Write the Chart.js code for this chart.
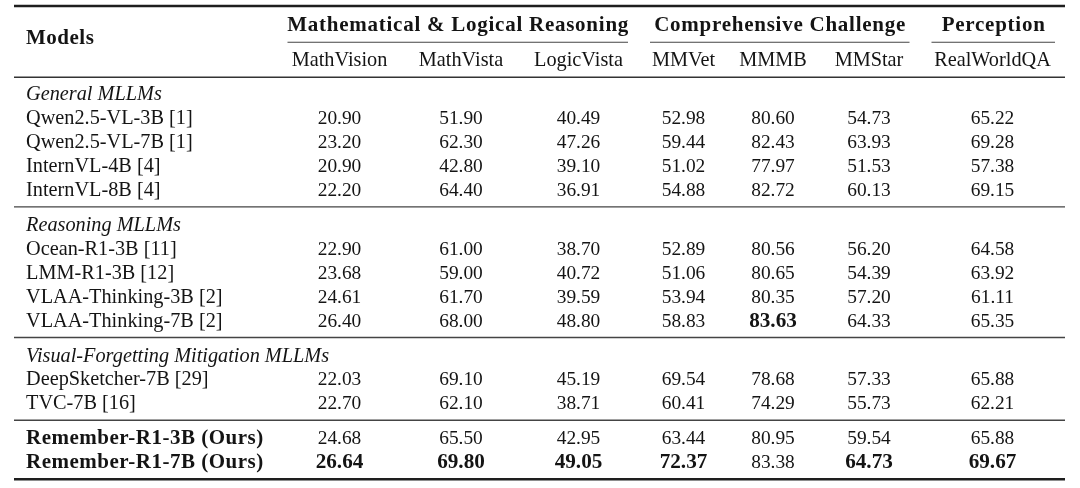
<!DOCTYPE html>
<html>
<head>
<meta charset="utf-8">
<script src="https://cdn.jsdelivr.net/npm/chart.js@4.4.1/dist/chart.umd.min.js"></script>
<style>
	html, body { margin: 0; padding: 0; background: #ffffff; }
	canvas { display: block; }
</style>
</head>
<body>
<canvas id="myChart" width="1080" height="488"></canvas>
<script>
	// table contents
	const groupNames = ['Mathematical & Logical Reasoning', 'Comprehensive Challenge', 'Perception'];
	const groupSpans = [3, 3, 1];
	const benchmarks = ['MathVision', 'MathVista', 'LogicVista', 'MMVet', 'MMMB', 'MMStar', 'RealWorldQA'];
	const sections = ['General MLLMs', 'Reasoning MLLMs', 'Visual-Forgetting Mitigation MLLMs', ''];
	const models = [
		'Qwen2.5-VL-3B [1]', 'Qwen2.5-VL-7B [1]', 'InternVL-4B [4]', 'InternVL-8B [4]',
		'Ocean-R1-3B [11]', 'LMM-R1-3B [12]', 'VLAA-Thinking-3B [2]', 'VLAA-Thinking-7B [2]',
		'DeepSketcher-7B [29]', 'TVC-7B [16]',
		'Remember-R1-3B (Ours)', 'Remember-R1-7B (Ours)'
	];
	const modelSection = [0, 0, 0, 0, 1, 1, 1, 1, 2, 2, 3, 3];
	const boldModels = [10, 11];

	const mathVision  = ['20.90', '23.20', '20.90', '22.20', '22.90', '23.68', '24.61', '26.40', '22.03', '22.70', '24.68', '26.64'];
	const mathVista   = ['51.90', '62.30', '42.80', '64.40', '61.00', '59.00', '61.70', '68.00', '69.10', '62.10', '65.50', '69.80'];
	const logicVista  = ['40.49', '47.26', '39.10', '36.91', '38.70', '40.72', '39.59', '48.80', '45.19', '38.71', '42.95', '49.05'];
	const mmVet       = ['52.98', '59.44', '51.02', '54.88', '52.89', '51.06', '53.94', '58.83', '69.54', '60.41', '63.44', '72.37'];
	const mmmb        = ['80.60', '82.43', '77.97', '82.72', '80.56', '80.65', '80.35', '83.63', '78.68', '74.29', '80.95', '83.38'];
	const mmStar      = ['54.73', '63.93', '51.53', '60.13', '56.20', '54.39', '57.20', '64.33', '57.33', '55.73', '59.54', '64.73'];
	const realWorldQA = ['65.22', '69.28', '57.38', '69.15', '64.58', '63.92', '61.11', '65.35', '65.88', '62.21', '65.88', '69.67'];
	// [row, column] of bold (best) cells
	const boldCells = [[7, 4], [11, 0], [11, 1], [11, 2], [11, 3], [11, 5], [11, 6]];

	const columns = [mathVision, mathVista, logicVista, mmVet, mmmb, mmStar, realWorldQA];

	// layout
	const colX = [339.5, 461, 578.5, 683.5, 773, 869, 992.5];
	const labelX = 26;
	const tableLeft = 14, tableRight = 1065;
	const groupRuleX = [[287.5, 628], [650, 909.5], [931.5, 1055]];
	const pitch = 23.9;

	const FONT = '"Liberation Serif", "Times New Roman", serif';
	const styles = {
		reg:     { font: '20.3px ' + FONT, spacing: 0 },
		num:     { font: '19.4px ' + FONT, spacing: 0 },
		ital:    { font: 'italic 20.3px ' + FONT, spacing: 0 },
		bold:    { font: 'bold 21px ' + FONT, spacing: 0.5 },
		group:   { font: 'bold 21px ' + FONT, spacing: 0.75 },
		boldNum: { font: 'bold 21.2px ' + FONT, spacing: 0 }
	};

	const headerCells = [];
	const labelCells = [];
	const valueCells = [];
	const rules = [];

	rules.push({ y: 6, x0: tableLeft, x1: tableRight, w: 2.5, c: '#1e1e1e' });
	groupNames.forEach(function (g, i) {
		headerCells.push({ x: (groupRuleX[i][0] + groupRuleX[i][1]) / 2, y: 31, text: g, style: 'group', align: 'center' });
		rules.push({ y: 42.3, x0: groupRuleX[i][0], x1: groupRuleX[i][1], w: 1.1, c: '#444' });
	});
	headerCells.push({ x: labelX, y: 44.3, text: 'Models', style: 'bold', align: 'left' });
	benchmarks.forEach(function (b, i) {
		headerCells.push({ x: colX[i], y: 66, text: b, style: 'reg', align: 'center' });
	});
	rules.push({ y: 77.3, x0: tableLeft, x1: tableRight, w: 1.5, c: '#333' });

	let y = 100.3;
	sections.forEach(function (s, si) {
		if (s) {
			labelCells.push({ x: labelX, y: y, text: s, style: 'ital', align: 'left' });
			y += pitch;
		}
		models.forEach(function (m, r) {
			if (modelSection[r] !== si) return;
			labelCells.push({ x: labelX, y: y, text: m, style: boldModels.includes(r) ? 'bold' : 'reg', align: 'left' });
			columns.forEach(function (col, ci) {
				const isBold = boldCells.some(function (b) { return b[0] === r && b[1] === ci; });
				valueCells.push({ x: colX[ci], y: y, text: col[r], style: isBold ? 'boldNum' : 'num', align: 'center' });
			});
			y += pitch;
		});
		const ruleY = y - pitch + 11;
		if (si < sections.length - 1) {
			rules.push({ y: ruleY, x0: tableLeft, x1: tableRight, w: 1.4, c: '#444' });
			y = ruleY + 24;
		} else {
			rules.push({ y: ruleY, x0: tableLeft, x1: tableRight, w: 2.5, c: '#1e1e1e' });
		}
	});

	const tablePlugin = {
		id: 'tableText',
		beforeDatasetsDraw: function (chart) {
			const ctx = chart.ctx;
			const xs = chart.scales.x, ys = chart.scales.y;
			ctx.save();
			rules.forEach(function (r) {
				ctx.strokeStyle = r.c;
				ctx.lineWidth = r.w;
				ctx.beginPath();
				ctx.moveTo(xs.getPixelForValue(r.x0), ys.getPixelForValue(r.y));
				ctx.lineTo(xs.getPixelForValue(r.x1), ys.getPixelForValue(r.y));
				ctx.stroke();
			});
			ctx.restore();
		},
		afterDatasetsDraw: function (chart) {
			const ctx = chart.ctx;
			ctx.save();
			ctx.fillStyle = '#141414';
			ctx.textBaseline = 'alphabetic';
			chart.data.datasets.forEach(function (ds, i) {
				const meta = chart.getDatasetMeta(i);
				meta.data.forEach(function (el, j) {
					const cell = ds.data[j];
					const st = styles[cell.style];
					ctx.font = st.font;
					ctx.letterSpacing = st.spacing + 'px';
					ctx.textAlign = cell.align;
					let x = el.x;
					if (cell.align === 'center') x += st.spacing / 2;
					ctx.fillText(cell.text, x, el.y);
				});
			});
			ctx.restore();
		}
	};

	const config = {
		type: 'scatter',
		data: {
			datasets: [
				{ label: 'header', data: headerCells, pointRadius: 0 },
				{ label: 'models', data: labelCells, pointRadius: 0 },
				{ label: 'scores', data: valueCells, pointRadius: 0 }
			]
		},
		options: {
			responsive: false,
			animation: false,
			devicePixelRatio: 1,
			layout: { padding: 0 },
			scales: {
				x: { type: 'linear', min: 0, max: 1080, display: false },
				y: { type: 'linear', min: 0, max: 488, reverse: true, display: false }
			},
			plugins: {
				legend: { display: false },
				tooltip: { enabled: false }
			}
		},
		plugins: [tablePlugin]
	};

	const myChart = new Chart(document.getElementById('myChart'), config);
</script>
</body>
</html>
